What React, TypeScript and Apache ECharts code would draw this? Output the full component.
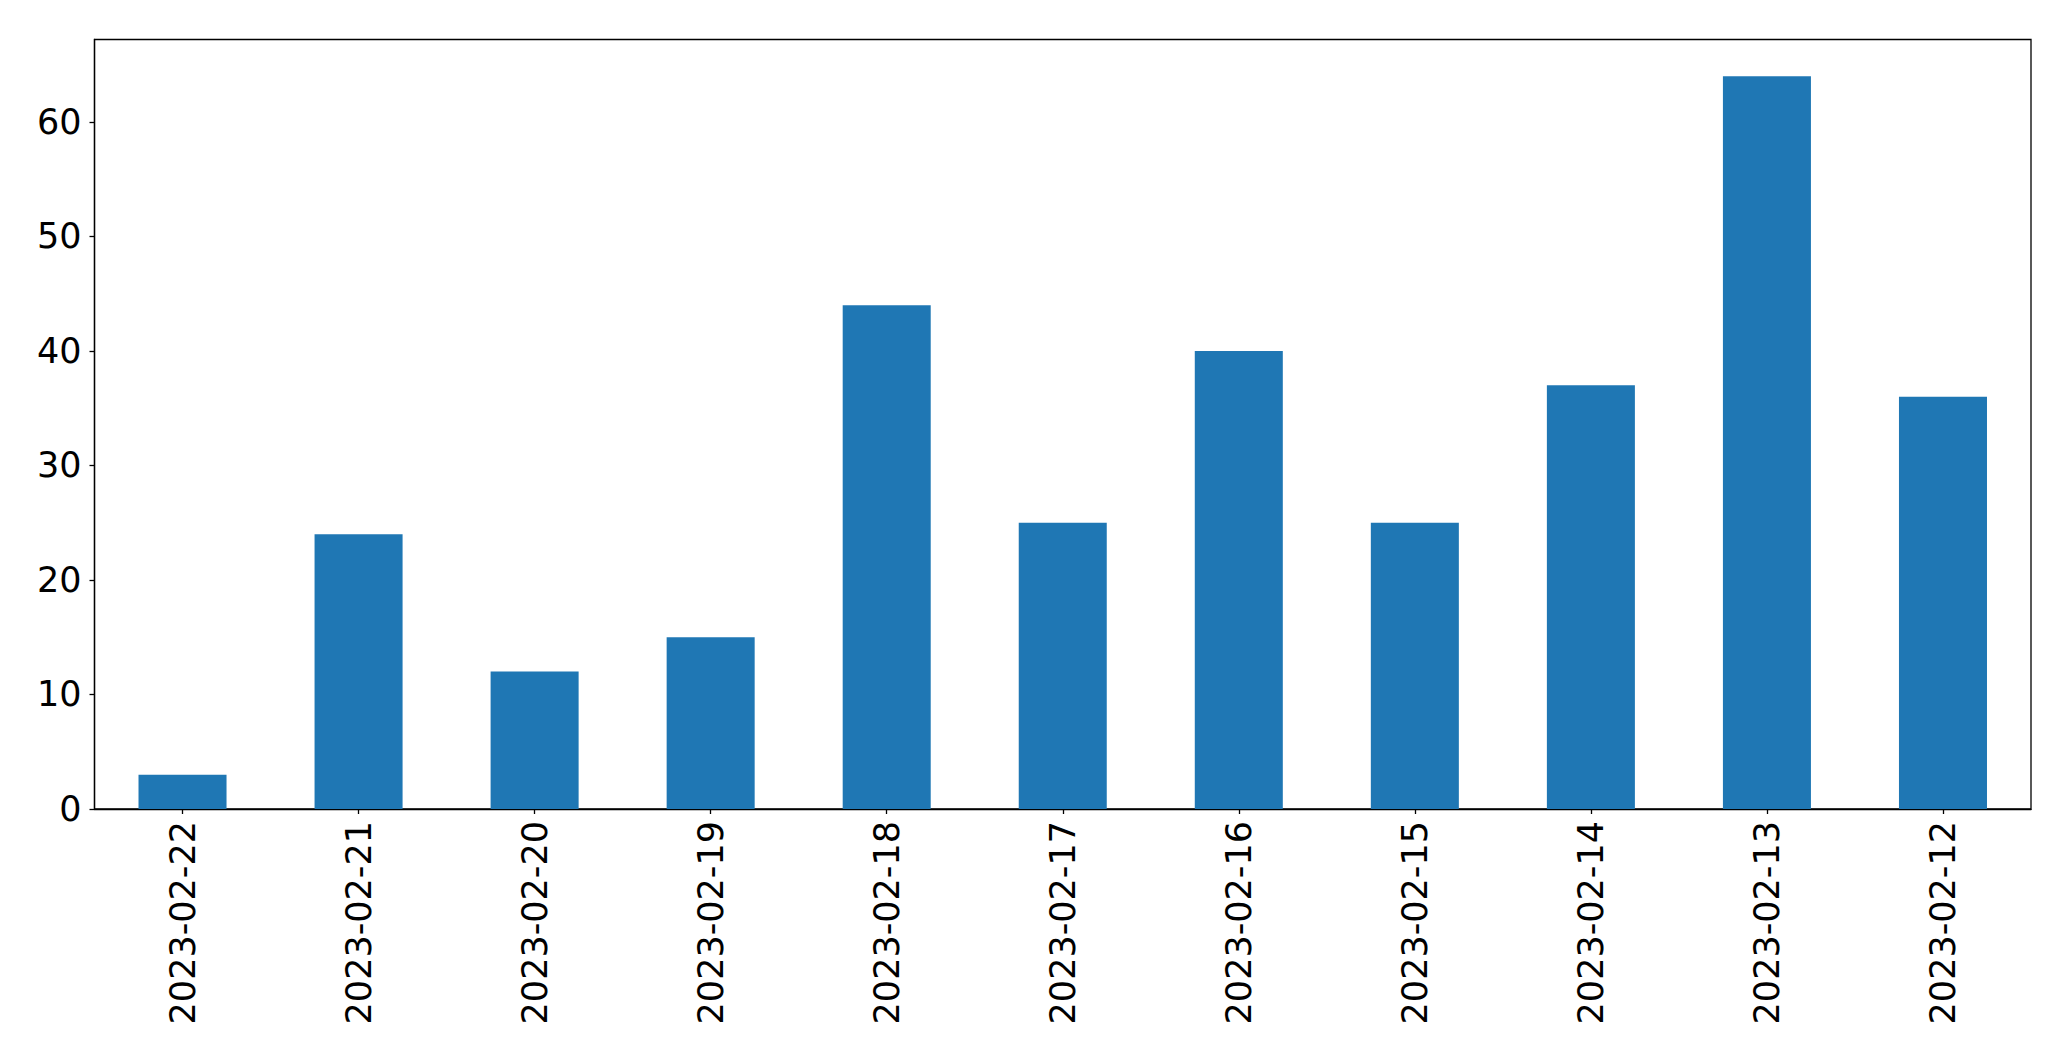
import React, { useEffect, useRef } from "react";
import * as echarts from "echarts";

const categories = [
  "2023-02-22",
  "2023-02-21",
  "2023-02-20",
  "2023-02-19",
  "2023-02-18",
  "2023-02-17",
  "2023-02-16",
  "2023-02-15",
  "2023-02-14",
  "2023-02-13",
  "2023-02-12",
];
const values = [3, 24, 12, 15, 44, 25, 40, 25, 37, 64, 36];
const yMax = 67.2;

export default function App() {
  const ref = useRef<HTMLDivElement>(null);
  useEffect(() => {
    if (!ref.current) return;
    const chart = echarts.init(ref.current, null, { renderer: "svg" });
    const font = "DejaVu Sans";
    chart.setOption({
      animation: false,
      backgroundColor: "#ffffff",
      grid: {
        left: 94.5,
        top: 39.5,
        width: 1936.5,
        height: 769.5,
        show: true,
        borderColor: "#000000",
        borderWidth: 1.3,
        backgroundColor: "transparent",
      },
      xAxis: {
        type: "category",
        data: categories,
        boundaryGap: true,
        axisLine: { show: true, lineStyle: { color: "#000000", width: 1.3 } },
        axisTick: { show: true, alignWithLabel: true, length: 5, lineStyle: { color: "#000000", width: 1.3 } },
        axisLabel: {
          rotate: 90,
          interval: 0,
          margin: 12,
          fontSize: 35,
          fontFamily: font,
          color: "#000000",
        },
        splitLine: { show: false },
      },
      yAxis: {
        type: "value",
        min: 0,
        max: yMax,
        interval: 10,
        axisLine: { show: true, lineStyle: { color: "#000000", width: 1.3 } },
        axisTick: { show: true, length: 5, lineStyle: { color: "#000000", width: 1.3 } },
        axisLabel: {
          showMaxLabel: false,
          margin: 13,
          fontSize: 35,
          fontFamily: font,
          color: "#000000",
        },
        splitLine: { show: false },
      },
      series: [
        {
          type: "bar",
          data: values,
          barWidth: "50%",
          itemStyle: { color: "#1f77b4" },
        },
      ],
    });
    return () => chart.dispose();
  }, []);
  return (
    <div
      ref={ref}
      style={{ position: "absolute", left: 0, top: 0, width: 2071, height: 1061 }}
    />
  );
}
